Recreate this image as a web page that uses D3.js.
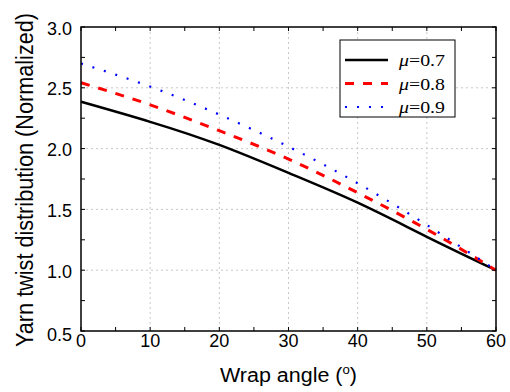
<!DOCTYPE html>
<html>
  <head>
    <meta charset="utf-8">
    <script src="https://d3js.org/d3.v7.min.js"></script>
    <title>Yarn twist distribution</title>
    <style>
      body { margin: 0; background: #fff; }
      text { font-family: "Liberation Sans", Arial, sans-serif; }
    </style>
  </head>
  <body>
    <svg width="510" height="392"></svg>
    <script>
      // wrap angle in degrees
      const angles = [0, 10, 20, 30, 40, 50, 60];
      // normalized twist
      const mu07 = [2.385, 2.22, 2.03, 1.80, 1.555, 1.275, 1.00];
      const mu08 = [2.542, 2.36, 2.147, 1.914, 1.637, 1.336, 1.00];
      const mu09 = [2.70, 2.51, 2.28, 2.016, 1.715, 1.372, 1.00];
      const seriesNames = ['0.7', '0.8', '0.9'];
      const xTicks = [0, 10, 20, 30, 40, 50, 60];
      const yTicks = [0.5, 1.0, 1.5, 2.0, 2.5, 3.0];

      const series = [
        { name: seriesNames[0], values: mu07, color: '#000', width: 2.5, dash: null },
        { name: seriesNames[1], values: mu08, color: '#ff0000', width: 3, dash: '9,9' },
        { name: seriesNames[2], values: mu09, color: '#0000ff', width: 2.2, dash: '2,10' }
      ];

      const margin = { left: 81, right: 14, top: 27, bottom: 61 };
      const svg = d3.select('svg');
      const width = +svg.attr('width');
      const height = +svg.attr('height');
      const innerWidth = width - margin.left - margin.right;
      const innerHeight = height - margin.top - margin.bottom;

      const x = d3.scaleLinear().domain([0, 60]).range([0, innerWidth]);
      const y = d3.scaleLinear().domain([0.5, 3.0]).range([innerHeight, 0]);

      const g = svg.append('g')
          .attr('transform', `translate(${margin.left},${margin.top})`);

      // grid
      g.append('g').selectAll('line').data(xTicks.slice(1, -1))
        .enter().append('line')
          .attr('x1', d => x(d)).attr('x2', d => x(d))
          .attr('y1', 0).attr('y2', innerHeight)
          .attr('stroke', '#c8c8c8').attr('stroke-dasharray', '2,3');
      g.append('g').selectAll('line').data(yTicks.slice(1, -1))
        .enter().append('line')
          .attr('y1', d => y(d)).attr('y2', d => y(d))
          .attr('x1', 0).attr('x2', innerWidth)
          .attr('stroke', '#c8c8c8').attr('stroke-dasharray', '2,3');

      // curves
      const line = d3.line()
        .x((d, i) => x(angles[i]))
        .y(d => y(d))
        .curve(d3.curveNatural);

      g.selectAll('.curve').data(series)
        .enter().append('path')
          .attr('class', 'curve')
          .attr('d', d => line(d.values))
          .attr('fill', 'none')
          .attr('stroke', d => d.color)
          .attr('stroke-width', d => d.width)
          .attr('stroke-dasharray', d => d.dash);

      // inward ticks on all four sides
      const xMinor = d3.range(0, 60.01, 5);
      const yMinor = d3.range(0.5, 3.01, 0.25);
      const tickLen = 4;
      const ticks = g.append('g').attr('stroke', '#000').attr('stroke-width', 1);
      xMinor.forEach(v => {
        ticks.append('line').attr('x1', x(v)).attr('x2', x(v))
          .attr('y1', innerHeight).attr('y2', innerHeight - tickLen);
        ticks.append('line').attr('x1', x(v)).attr('x2', x(v))
          .attr('y1', 0).attr('y2', tickLen);
      });
      yMinor.forEach(v => {
        ticks.append('line').attr('y1', y(v)).attr('y2', y(v))
          .attr('x1', 0).attr('x2', tickLen);
        ticks.append('line').attr('y1', y(v)).attr('y2', y(v))
          .attr('x1', innerWidth).attr('x2', innerWidth - tickLen);
      });

      // frame
      g.append('rect')
          .attr('width', innerWidth).attr('height', innerHeight)
          .attr('fill', 'none').attr('stroke', '#000').attr('stroke-width', 1.5);

      // tick labels
      g.append('g').selectAll('text').data(xTicks)
        .enter().append('text')
          .attr('x', d => x(d)).attr('y', innerHeight + 16)
          .attr('text-anchor', 'middle')
          .attr('font-size', 18)
          .text(d => d);
      g.append('g').selectAll('text').data(yTicks)
        .enter().append('text')
          .attr('x', -9).attr('y', d => y(d) + (d === 0.5 ? 9.5 : 7.5))
          .attr('text-anchor', 'end')
          .attr('font-size', 18)
          .text(d => d.toFixed(1));

      // axis titles
      const xt = svg.append('text')
          .attr('x', margin.left + innerWidth / 2).attr('y', 381.5)
          .attr('text-anchor', 'middle')
          .attr('font-size', 19.5)
          .attr('textLength', 137)
          .attr('lengthAdjust', 'spacingAndGlyphs');
      xt.append('tspan').text('Wrap angle (');
      xt.append('tspan').attr('dy', -8).attr('font-size', 12).text('o');
      xt.append('tspan').attr('dy', 8).text(')');

      svg.append('text')
          .attr('transform', `translate(33,${margin.top + innerHeight / 2 + 1}) rotate(-90)`)
          .attr('text-anchor', 'middle')
          .attr('font-size', 23)
          .attr('textLength', 334)
          .attr('lengthAdjust', 'spacingAndGlyphs')
          .text('Yarn twist distribution (Normalized)');

      // legend
      const legend = svg.append('g').attr('transform', 'translate(340,40)');
      legend.append('rect')
          .attr('width', 115).attr('height', 77)
          .attr('fill', '#fff').attr('stroke', '#000').attr('stroke-width', 1);
      const rows = legend.selectAll('.row').data(series)
        .enter().append('g')
          .attr('transform', (d, i) => `translate(0,${20 + i * 23.5})`);
      rows.append('line')
          .attr('x1', 5).attr('x2', 48)
          .attr('stroke', d => d.color)
          .attr('stroke-width', d => d.width)
          .attr('stroke-dasharray', d => d.dash);
      const lt = rows.append('text')
          .attr('x', 59).attr('y', 6)
          .attr('font-size', 17)
          .attr('textLength', 46)
          .attr('lengthAdjust', 'spacingAndGlyphs')
          .style('font-family', '"Liberation Serif", "Times New Roman", serif');
      lt.append('tspan').attr('font-style', 'italic').text('\u03bc');
      lt.append('tspan').text(d => '=' + d.name);
    </script>
  </body>
</html>
